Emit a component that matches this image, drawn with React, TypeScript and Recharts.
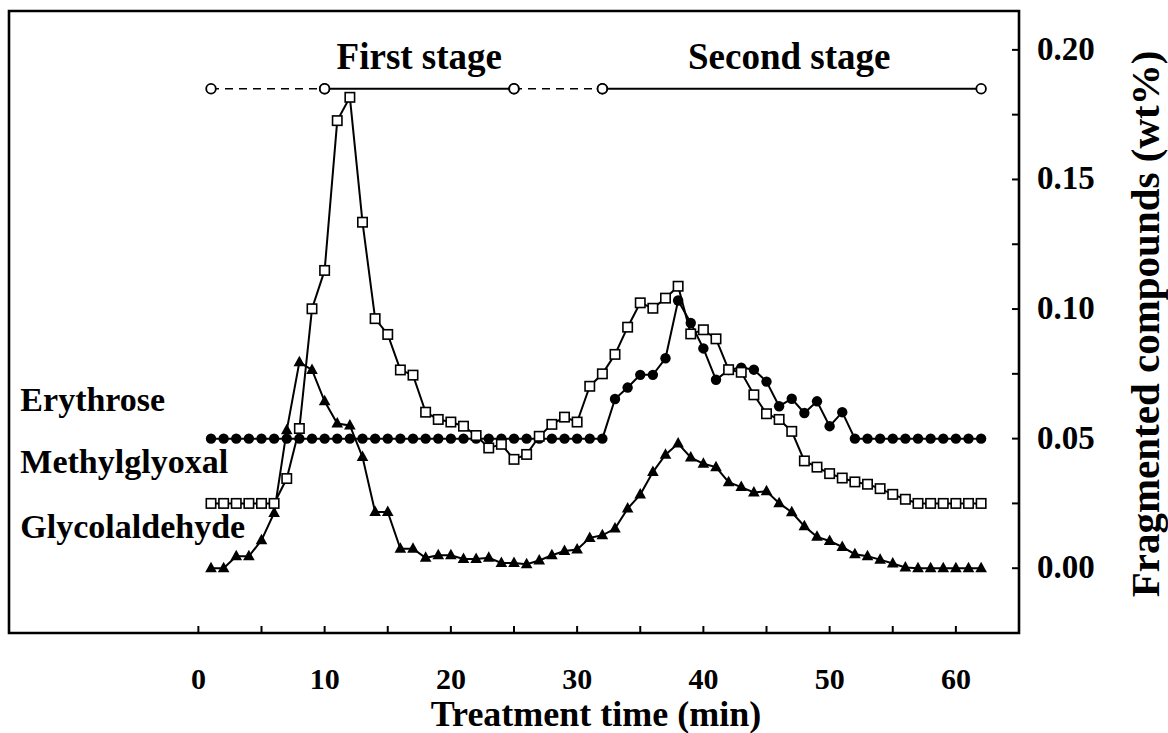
import { LineChart, Line, XAxis, YAxis, ReferenceArea, ReferenceDot } from 'recharts'

// treatment time (min)
const times = [
  1, 2, 3, 4, 5, 6, 7, 8, 9, 10, 11, 12, 13, 14, 15, 16, 17, 18, 19, 20, 21,
  22, 23, 24, 25, 26, 27, 28, 29, 30, 31, 32, 33, 34, 35, 36, 37, 38, 39, 40,
  41, 42, 43, 44, 45, 46, 47, 48, 49, 50, 51, 52, 53, 54, 55, 56, 57, 58, 59,
  60, 61, 62,
]

// wt%
const erythrose = [
  0.05, 0.05, 0.05, 0.05, 0.05, 0.05, 0.05, 0.05, 0.05, 0.05, 0.05, 0.05, 0.05,
  0.05, 0.05, 0.05, 0.05, 0.05, 0.05, 0.05, 0.05, 0.05, 0.05, 0.05, 0.05, 0.05,
  0.05, 0.05, 0.05, 0.05, 0.05, 0.05, 0.0653, 0.0697, 0.0746, 0.0746, 0.081,
  0.1033, 0.0946, 0.0848, 0.0727, 0.0765, 0.0774, 0.0766, 0.072, 0.0625,
  0.0654, 0.0599, 0.0644, 0.0548, 0.0602, 0.05, 0.05, 0.05, 0.05, 0.05, 0.05,
  0.05, 0.05, 0.05, 0.05, 0.05,
]

const methylglyoxal = [
  0.025, 0.025, 0.025, 0.025, 0.025, 0.025, 0.0346, 0.0539, 0.1001, 0.1149,
  0.1727, 0.1817, 0.1335, 0.0963, 0.0902, 0.0765, 0.0745, 0.0602, 0.0574,
  0.0564, 0.0548, 0.0512, 0.0464, 0.0478, 0.042, 0.0439, 0.0509, 0.0555,
  0.0583, 0.0564, 0.0702, 0.075, 0.0825, 0.093, 0.1024, 0.1003, 0.1042, 0.1088,
  0.0904, 0.092, 0.0885, 0.0766, 0.0756, 0.0669, 0.0596, 0.0574, 0.0528,
  0.0414, 0.039, 0.0365, 0.0348, 0.0333, 0.0324, 0.0307, 0.0285, 0.0266, 0.025,
  0.025, 0.025, 0.025, 0.025, 0.025,
]

const glycolaldehyde = [
  0, 0, 0.0046, 0.0046, 0.0108, 0.0213, 0.0532, 0.0795, 0.0765, 0.0644, 0.0558,
  0.0551, 0.0429, 0.0217, 0.0217, 0.0075, 0.0075, 0.004, 0.005, 0.005, 0.0036,
  0.0036, 0.004, 0.002, 0.002, 0.0015, 0.003, 0.005, 0.0066, 0.0072, 0.0117,
  0.0127, 0.0153, 0.023, 0.0284, 0.0371, 0.0438, 0.0481, 0.0427, 0.0403, 0.039,
  0.0332, 0.0313, 0.0292, 0.0297, 0.0251, 0.0216, 0.0162, 0.0121, 0.0105,
  0.0082, 0.0054, 0.0046, 0.0033, 0.0018, 0.0003, 0, 0, 0, 0, 0, 0,
]

const seriesNames = ['Erythrose', 'Methylglyoxal', 'Glycolaldehyde']
const xTicks = [0, 5, 10, 15, 20, 25, 30, 35, 40, 45, 50, 55, 60]
const yTicks = [0, 0.025, 0.05, 0.075, 0.1, 0.125, 0.15, 0.175, 0.2]

// stage bar: boundaries in min, shown above the curves
const stageBounds = [1, 10, 25, 32, 62]
const stageLevel = 0.185
const stageNames = ['First stage', 'Second stage']

const FONT = '"Liberation Serif", "Times New Roman", serif'

const data = times.map((t, i) => ({
  t,
  ery: erythrose[i],
  mgo: methylglyoxal[i],
  gla: glycolaldehyde[i],
}))

const seg = (a: number, b: number) => [
  { t: stageBounds[a], s: stageLevel },
  { t: stageBounds[b], s: stageLevel },
]

const circleDot = (p: any) => (
  <circle key={`e-${p.index}`} cx={p.cx} cy={p.cy} r={5.2} fill="#000" />
)
const squareDot = (p: any) => (
  <rect
    key={`m-${p.index}`}
    x={p.cx - 4.7}
    y={p.cy - 4.7}
    width={9.4}
    height={9.4}
    fill="#fff"
    stroke="#000"
    strokeWidth={1.6}
  />
)
const triDot = (p: any) => (
  <path
    key={`g-${p.index}`}
    d={`M${p.cx},${p.cy - 6.5}L${p.cx + 5.8},${p.cy + 4}L${p.cx - 5.8},${p.cy + 4}Z`}
    fill="#000"
  />
)
const openCircle = (p: any) => (
  <circle key={`s-${p.index}`} cx={p.cx} cy={p.cy} r={4.8} fill="#fff" stroke="#000" strokeWidth={1.8} />
)

const XTick = ({ x, y, payload }: any) => (
  <g>
    <line x1={x} y1={y} x2={x} y2={y - 7} stroke="#000" strokeWidth={2} />
    {payload.value % 10 === 0 && (
      <text x={x} y={y + 56} textAnchor="middle" fontFamily={FONT} fontWeight="bold" fontSize={30} fill="#000">
        {payload.value}
      </text>
    )}
  </g>
)

const YTick = ({ x, y, payload }: any) => (
  <g>
    <line x1={x - 7} y1={y} x2={x} y2={y} stroke="#000" strokeWidth={2} />
    {Math.round(payload.value * 1000) % 50 === 0 && (
      <text x={x + 18} y={y + 10} textAnchor="start" fontFamily={FONT} fontWeight="bold" fontSize={33} fill="#000">
        {payload.value.toFixed(2)}
      </text>
    )}
  </g>
)

const textShape = (label: string, anchor: string, size: number) => (p: any) => (
  <text x={p.cx} y={p.cy} textAnchor={anchor} fontFamily={FONT} fontWeight="bold" fontSize={size} fill="#000">
    {label}
  </text>
)

export default function App() {
  return (
    <div style={{ position: 'absolute', left: 0, top: 0, width: 1168, height: 733, background: '#fff' }}>
      <LineChart width={1168} height={733} data={data} margin={{ top: 11, right: 0, left: 9, bottom: 0 }}>
        <XAxis
          dataKey="t"
          type="number"
          domain={[-15, 65]}
          ticks={xTicks}
          allowDataOverflow
          height={100}
          axisLine={false}
          tickLine={false}
          tickSize={0}
          tickMargin={0}
          tick={<XTick />}
          label={{
            content: ({ viewBox }: any) => (
              <text x={596} y={viewBox.y + 93} textAnchor="middle" fontFamily={FONT} fontWeight="bold" fontSize={36} fill="#000">
                Treatment time (min)
              </text>
            ),
          }}
        />
        <YAxis
          orientation="right"
          type="number"
          domain={[-0.025, 0.215]}
          ticks={yTicks}
          allowDataOverflow
          width={149}
          axisLine={false}
          tickLine={false}
          tickSize={0}
          tickMargin={0}
          tick={<YTick />}
          label={{
            content: ({ viewBox }: any) => {
              const cx = viewBox.x + 126
              const cy = viewBox.y + viewBox.height / 2 + 2
              return (
                <text
                  x={cx}
                  y={cy}
                  transform={`rotate(-90 ${cx} ${cy})`}
                  textAnchor="middle"
                  dominantBaseline="central"
                  fontFamily={FONT}
                  fontWeight="bold"
                  fontSize={41}
                  fill="#000"
                >
                  Fragmented compounds (wt%)
                </text>
              )
            },
          }}
        />
        <ReferenceArea x1={-15} x2={65} y1={-0.025} y2={0.215} fill="none" stroke="#000" strokeWidth={2.6} ifOverflow="visible" />

        {/* stage bar */}
        <Line data={seg(0, 1)} dataKey="s" stroke="#000" strokeWidth={1.6} strokeDasharray="8 6" dot={openCircle} isAnimationActive={false} />
        <Line data={seg(2, 3)} dataKey="s" stroke="#000" strokeWidth={1.6} strokeDasharray="8 6" dot={openCircle} isAnimationActive={false} />
        <Line data={seg(1, 2)} dataKey="s" stroke="#000" strokeWidth={1.8} dot={openCircle} isAnimationActive={false} />
        <Line data={seg(3, 4)} dataKey="s" stroke="#000" strokeWidth={1.8} dot={openCircle} isAnimationActive={false} />
        <ReferenceDot x={17.5} y={0.1925} r={1} ifOverflow="visible" shape={textShape(stageNames[0], 'middle', 37)} />
        <ReferenceDot x={46.8} y={0.1925} r={1} ifOverflow="visible" shape={textShape(stageNames[1], 'middle', 37)} />

        <Line dataKey="ery" name={seriesNames[0]} stroke="#000" strokeWidth={2} dot={circleDot} isAnimationActive={false} />
        <Line dataKey="gla" name={seriesNames[2]} stroke="#000" strokeWidth={2} dot={triDot} isAnimationActive={false} />
        <Line dataKey="mgo" name={seriesNames[1]} stroke="#000" strokeWidth={2} dot={squareDot} isAnimationActive={false} />

        {/* series labels at the left */}
        <ReferenceDot x={-14.1} y={0.0605} r={1} ifOverflow="visible" shape={textShape(seriesNames[0], 'start', 34)} />
        <ReferenceDot x={-14.1} y={0.0366} r={1} ifOverflow="visible" shape={textShape(seriesNames[1], 'start', 34)} />
        <ReferenceDot x={-14.1} y={0.0116} r={1} ifOverflow="visible" shape={textShape(seriesNames[2], 'start', 34)} />
      </LineChart>
    </div>
  )
}
